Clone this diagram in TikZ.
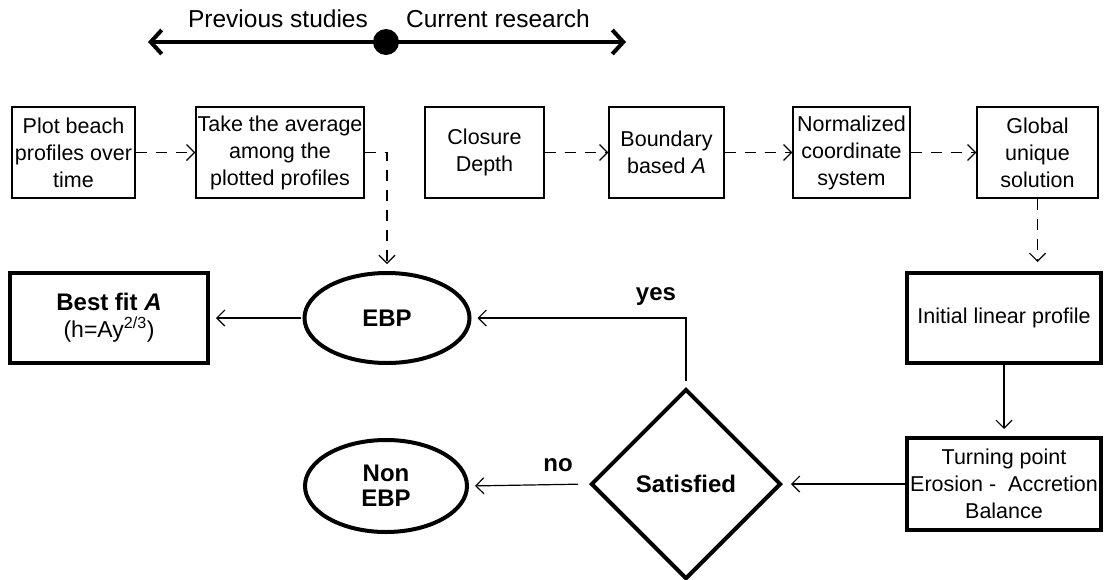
\documentclass[tikz,border=0pt]{standalone}
\usepackage{fontspec}
\setmainfont{Liberation Sans}
\usetikzlibrary{arrows.meta,shapes.geometric}
\begin{document}
\begin{tikzpicture}[x=1pt,y=-1pt,
  txt/.style={font=\fontsize{21.5}{27}\selectfont},
  thinbox/.style={draw, line width=1.3pt, minimum height=91pt, align=center, inner sep=1pt, txt},
  thickbox/.style={draw, line width=4pt, align=center, inner sep=1pt, txt},
  ell/.style={draw, ellipse, line width=4pt, align=center, inner sep=0pt, font=\fontsize{24}{25}\selectfont\bfseries},
  conn/.style={line width=1.2pt, -{Straight Barb[length=8pt,width=16pt,line width=1.2pt]}},
  dconn/.style={conn, dash pattern=on 11pt off 9pt},
  lbl/.style={font=\fontsize{24}{26}\selectfont\bfseries}
]
\useasboundingbox (0,0) rectangle (1104,579);

% timeline
\coordinate (tl) at (148,42);
\coordinate (tr) at (626,42);
\draw[line width=4pt, {Straight Barb[length=11pt,width=24pt,line width=4pt]}-{Straight Barb[length=11pt,width=24pt,line width=4pt]}] (tl) -- (tr);
\node[circle, fill=black, minimum size=26pt, inner sep=0pt] (dot) at (386,42) {};
\node[font=\fontsize{24.5}{26}\selectfont] (prev) at (278,19) {Previous studies};
\node[font=\fontsize{24.5}{26}\selectfont] (curr) at (498,19) {Current research};

% top row
\node[thinbox, minimum width=123pt] (b1) at (73.5,152.5) {Plot beach\\profiles over\\time};
\node[thinbox, minimum width=168pt] (b2) at (280,152.5) {Take the average\\among the\\plotted profiles};
\node[thinbox, minimum width=119pt] (b3) at (484.5,152.5) {Closure\\Depth};
\node[thinbox, minimum width=115pt] (b4) at (666.5,152.5) {Boundary\\based \textit{A}};
\node[thinbox, minimum width=117pt] (b5) at (851.5,152.5) {Normalized\\coordinate\\system};
\node[thinbox, minimum width=121pt] (b6) at (1037.5,152.5) {Global\\unique\\solution};

% lower nodes
\node[thickbox, minimum width=198pt, minimum height=90pt] (best) at (109,318) {{\fontsize{24}{27}\selectfont\bfseries Best fit \textit{A}}\\{\fontsize{23}{27}\selectfont(h=Ay\textsuperscript{2/3})}};
\node[ell, minimum width=165pt, minimum height=90pt] (ebp) at (387,318) {EBP};
\node[thickbox, minimum width=194pt, minimum height=90pt] (init) at (1004,318) {Initial linear profile};
\node[thickbox, minimum width=194pt, minimum height=92pt] (turn) at (1004,484) {Turning point\\Erosion -\ \ Accretion\\Balance};
\node[draw, diamond, aspect=1, line width=4pt, minimum width=190pt, minimum height=190pt, inner sep=0pt, font=\fontsize{24}{26}\selectfont\bfseries] (dia) at (686,484) {Satisfied};
\node[ell, minimum width=162pt, minimum height=92pt] (non) at (386,486) {Non\\EBP};

% connectors
\draw[dconn] (b1.east) -- (b2.west);
\draw[dconn] (b3.east) -- (b4.west);
\draw[dconn] (b4.east) -- (b5.west);
\draw[dconn] (b5.east) -- (b6.west);
\draw[dconn, shorten >=7pt] (b2.east) -| (ebp.north);
\draw[dconn, shorten >=9pt] (b6.south) -- (b6.south |- init.north);
\draw[conn, shorten >=7pt] (init.south) -- (turn.north);
\draw[conn, shorten >=8pt] (turn.west) -- (dia.east);
\draw[conn, shorten <=11pt, shorten >=6pt] (dia.west) -- (non.east);
\draw[conn, shorten <=6pt, shorten >=6pt] (dia.north) |- (ebp.east);
\draw[conn, shorten <=2pt, shorten >=6pt] (ebp.west) -- (best.east);

\node[lbl] (yes) at (656,297) {yes};
\node[lbl] (no) at (558,465) {no};
\end{tikzpicture}
\end{document}
